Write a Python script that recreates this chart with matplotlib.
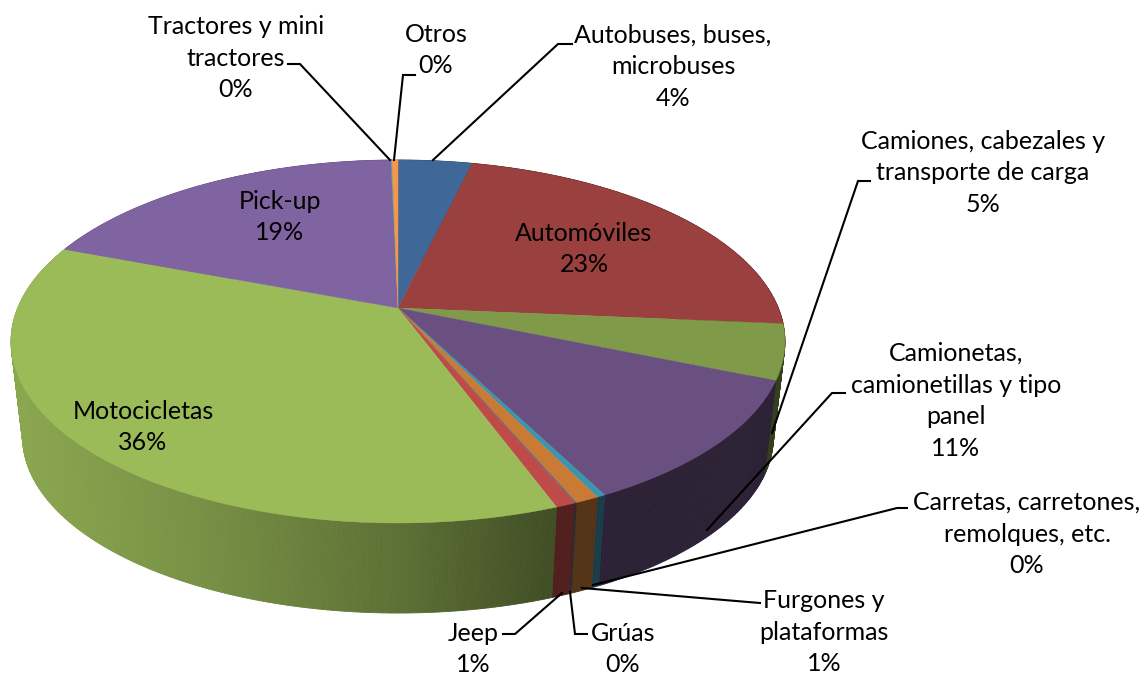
import numpy as np
import matplotlib
matplotlib.use("Agg")
import matplotlib.pyplot as plt
from matplotlib.collections import PolyCollection

categories = ["Autobuses, buses,\nmicrobuses", "Automóviles", "Camiones, cabezales y\ntransporte de carga",
              "Camionetas,\ncamionetillas y tipo\npanel", "Carretas, carretones,\nremolques, etc.",
              "Furgones y\nplataformas", "Grúas", "Jeep", "Motocicletas", "Pick-up",
              "Tractores y mini\ntractores", "Otros"]
values = [3.7, 22.7, 4.9, 11.2, 0.3, 0.84, 0.06, 0.7, 36.4, 18.85, 0.05, 0.3]
colors = ["#3F6797", "#9A403E", "#7F9A48", "#6A5080", "#3B95AE", "#C97B35",
          "#4F6A8F", "#BE4B48", "#9BBB59", "#8064A2", "#4BACC6", "#F79646"]
label_pos = [(673, 67), (584, 249), (983, 173), (956, 401), (1027, 534), (824, 632),
             (623, 649), (473, 649), (143, 427), (280, 217), (236, 58), (436, 50)]
leaders = [[(572, 44), (558, 44), (433, 160)], None, [(870, 181), (858, 181), (772, 433)],
           [(845, 393), (832, 393), (707, 530)], [(907, 508), (897, 508), (593, 585)],
           [(760, 603), (748, 602), (582, 588)], [(587, 634), (575, 634), (570, 592)],
           [(503, 634), (515, 634), (562, 593)], None, None,
           [(288, 64), (300, 64), (390, 160)], [(415, 75), (403, 75), (394, 160)]]

plt.rcParams["font.family"] = ["Lato", "DejaVu Sans"]
fig = plt.figure(figsize=(11.44, 6.75), dpi=100)
ax = fig.add_axes([0, 0, 1, 1])
ax.set_xlim(0, 1144)
ax.set_ylim(675, 0)
ax.axis("off")

CX, CY = 398.0, 308.0
A, B, K = 380.3, 175.3, 0.1846
SHRINK, BOTTOM_Y = 0.97, 404.5


def project(theta, face="top"):
    X, Y = np.sin(theta), np.cos(theta)
    sx, sy = A * X / (1 + K * Y), B * Y / (1 + K * Y)
    if face == "top":
        return CX + sx, CY - sy
    return CX + SHRINK * sx, BOTTOM_Y - SHRINK * sy


shade_x = [15, 200, 400, 550, 1144]
shade_f = [0.89, 0.77, 0.60, 0.42, 0.40]


def shade(color, x):
    rgb = np.array(matplotlib.colors.to_rgb(color))
    return tuple(rgb * np.interp(x, shade_x, shade_f))


edges = 2 * np.pi * np.concatenate([[0], np.cumsum(values)]) / sum(values)

# Side walls
for i, c in enumerate(colors):
    n = max(2, int((edges[i + 1] - edges[i]) * 120))
    th = np.linspace(edges[i], edges[i + 1], n + 1)
    tx, ty = project(th, "top")
    bx, by = project(th, "bottom")
    quads, cols = [], []
    for j in range(n):
        quads.append([(tx[j], ty[j]), (tx[j + 1], ty[j + 1]), (bx[j + 1], by[j + 1]), (bx[j], by[j])])
        cols.append(shade(c, 0.5 * (tx[j] + tx[j + 1])))
    ax.add_collection(PolyCollection(quads, facecolors=cols, edgecolors=cols, linewidths=0.6, zorder=2))

# Top face
for i, c in enumerate(colors):
    th = np.linspace(edges[i], edges[i + 1], max(2, int((edges[i + 1] - edges[i]) * 120)) + 1)
    x, y = project(th, "top")
    ax.fill(np.r_[CX, x], np.r_[CY, y], facecolor=c, edgecolor=c, linewidth=0.3, zorder=3)

# Leader lines
for pts in leaders:
    if pts:
        ax.plot(*zip(*pts), color="black", lw=1.5, zorder=4, solid_joinstyle="miter")

# Labels
for name, v, (x, y) in zip(categories, values, label_pos):
    ax.text(x, y, f"{name}\n{round(v):d}%", ha="center", va="center", ma="center",
            fontsize=18, linespacing=1.47, color="black", zorder=5)

fig.savefig("out.png", dpi=100)
